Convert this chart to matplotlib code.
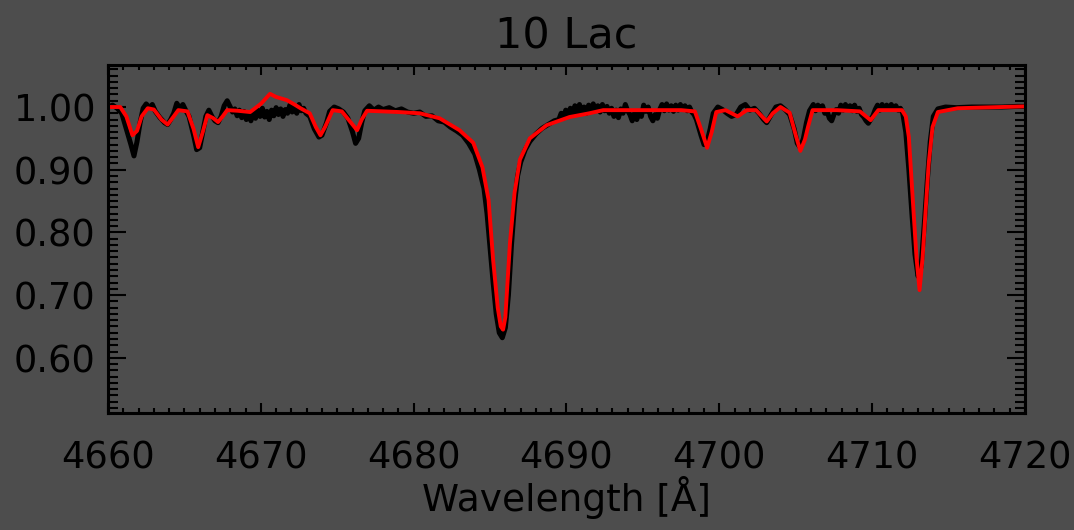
import matplotlib
matplotlib.use("Agg")
import matplotlib.pyplot as plt
from matplotlib.ticker import MultipleLocator, FormatStrFormatter

# ---- data ----
# observed spectrum (black), in wavelength segments
obs_wl_a = [4660.0, 4660.3, 4660.6, 4660.9, 4661.2, 4661.5, 4661.7, 4661.9, 4662.1, 4662.3,
            4662.5, 4662.7, 4662.9, 4663.1, 4663.4, 4663.7, 4663.9, 4664.1, 4664.3, 4664.5,
            4664.7, 4664.9, 4665.1, 4665.3, 4665.6, 4665.8, 4666.0, 4666.2, 4666.4, 4666.6,
            4666.8, 4667.0, 4667.2, 4667.4, 4667.6, 4667.8]
obs_fx_a = [1.000, 1.003, 0.998, 0.990, 0.965, 0.940, 0.922, 0.945, 0.975, 0.998,
            1.005, 0.999, 1.004, 0.993, 0.983, 0.975, 0.972, 0.980, 0.990, 1.006,
            0.998, 1.004, 0.994, 0.985, 0.955, 0.932, 0.935, 0.960, 0.985, 0.995,
            0.985, 0.978, 0.975, 0.985, 1.002, 1.010]

obs_wl_b = [4668.0, 4668.15, 4668.3, 4668.45, 4668.6, 4668.75, 4668.9, 4669.05, 4669.2, 4669.35,
            4669.5, 4669.65, 4669.8, 4669.95, 4670.1, 4670.25, 4670.4, 4670.55, 4670.7, 4670.85,
            4671.0, 4671.15, 4671.3, 4671.45, 4671.6, 4671.75, 4671.9, 4672.05, 4672.2, 4672.35,
            4672.5, 4672.65, 4672.8, 4672.95]
obs_fx_b = [1.000, 0.992, 0.997, 0.986, 0.995, 0.983, 0.993, 0.980, 0.990, 0.978,
            0.992, 0.982, 0.995, 0.985, 0.998, 0.984, 0.993, 0.980, 0.995, 0.986,
            0.999, 0.988, 0.997, 0.985, 0.996, 0.990, 1.003, 0.992, 1.000, 0.990,
            1.004, 0.994, 0.998, 0.990]

obs_wl_c = [4673.2, 4673.5, 4673.8, 4674.0, 4674.3, 4674.5, 4674.8, 4675.1, 4675.4, 4675.7,
            4676.0, 4676.2, 4676.4, 4676.6, 4676.8, 4677.1, 4677.4, 4677.7, 4678.0, 4678.4,
            4678.8, 4679.2, 4679.6, 4680.0, 4680.4, 4680.8, 4681.2, 4681.6, 4682.0, 4682.4,
            4682.8, 4683.2, 4683.6, 4684.0, 4684.3, 4684.6, 4684.8, 4685.0, 4685.2, 4685.4,
            4685.6, 4685.8, 4686.0, 4686.2, 4686.4, 4686.6, 4686.8, 4687.0, 4687.3, 4687.6,
            4688.0, 4688.4, 4688.8, 4689.2]
obs_fx_c = [0.985, 0.965, 0.952, 0.955, 0.975, 0.993, 1.000, 0.997, 0.992, 0.982,
            0.960, 0.942, 0.950, 0.975, 0.994, 1.002, 0.995, 1.000, 0.996, 0.999,
            0.994, 0.997, 0.992, 0.990, 0.992, 0.985, 0.986, 0.978, 0.976, 0.968,
            0.962, 0.955, 0.942, 0.925, 0.900, 0.870, 0.830, 0.775, 0.720, 0.670,
            0.640, 0.632, 0.648, 0.700, 0.780, 0.845, 0.890, 0.912, 0.932, 0.945,
            0.957, 0.966, 0.972, 0.978]

obs_wl_d = [4689.5, 4689.65, 4689.8, 4689.95, 4690.1, 4690.25, 4690.4, 4690.55, 4690.7, 4690.85,
            4691.0, 4691.15, 4691.3, 4691.45, 4691.6, 4691.75, 4691.9, 4692.05, 4692.2, 4692.35,
            4692.5, 4692.65, 4692.8, 4692.95, 4693.1, 4693.25, 4693.4, 4693.55, 4693.7, 4693.85,
            4694.0, 4694.15, 4694.3, 4694.45, 4694.6, 4694.75, 4694.9, 4695.05, 4695.2, 4695.35,
            4695.5, 4695.65, 4695.8, 4695.95, 4696.1, 4696.25, 4696.4, 4696.55, 4696.7, 4696.85,
            4697.0, 4697.15, 4697.3, 4697.45, 4697.6, 4697.75, 4697.9, 4698.05, 4698.2, 4698.35]
obs_fx_d = [0.980, 0.990, 0.982, 0.995, 0.985, 0.998, 0.988, 1.002, 0.990, 1.004,
            0.992, 1.000, 0.990, 1.003, 0.993, 1.005, 0.995, 1.002, 0.992, 1.004,
            0.994, 1.001, 0.990, 0.998, 0.985, 0.995, 0.983, 0.997, 0.990, 1.004,
            0.994, 0.988, 0.978, 0.990, 0.980, 0.993, 0.985, 1.003, 0.993, 1.000,
            0.985, 0.978, 0.988, 0.982, 0.996, 1.004, 0.994, 1.005, 0.995, 1.002,
            0.993, 1.003, 0.995, 1.004, 0.996, 1.002, 0.994, 1.000, 0.992, 0.988]

obs_wl_e = [4698.5, 4698.8, 4699.0, 4699.2, 4699.4, 4699.6, 4699.9, 4700.2, 4700.5, 4700.8,
            4701.1, 4701.4, 4701.7, 4702.0, 4702.3, 4702.6, 4702.9, 4703.1, 4703.4, 4703.7,
            4704.0, 4704.3, 4704.6, 4704.9, 4705.1, 4705.3, 4705.5, 4705.7, 4705.9]
obs_fx_e = [0.980, 0.955, 0.940, 0.945, 0.965, 0.990, 1.000, 0.996, 0.990, 0.985,
            0.988, 1.000, 1.004, 0.995, 0.998, 0.990, 0.980, 0.975, 0.988, 1.000,
            1.002, 0.996, 0.988, 0.965, 0.942, 0.935, 0.950, 0.975, 0.994]

obs_wl_f = [4706.0, 4706.15, 4706.3, 4706.45, 4706.6, 4706.75, 4706.9, 4707.05, 4707.2, 4707.35,
            4707.5, 4707.65, 4707.8, 4707.95, 4708.1, 4708.25, 4708.4, 4708.55, 4708.7, 4708.85,
            4709.0, 4709.15, 4709.3, 4709.45, 4709.6, 4709.75, 4709.9, 4710.05, 4710.2, 4710.35,
            4710.5, 4710.65, 4710.8, 4710.95, 4711.1, 4711.25, 4711.4, 4711.55, 4711.7, 4711.85]
obs_fx_f = [0.998, 1.004, 0.994, 1.003, 0.996, 1.002, 0.990, 0.993, 0.982, 0.978,
            0.988, 0.996, 0.990, 1.003, 0.995, 1.004, 0.996, 1.002, 0.994, 1.003,
            0.993, 0.998, 0.988, 0.984, 0.978, 0.974, 0.980, 0.986, 0.996, 1.003,
            0.995, 1.004, 0.997, 1.003, 0.996, 1.004, 0.997, 1.002, 0.995, 0.998]

obs_wl_g = [4712.0, 4712.2, 4712.4, 4712.6, 4712.8, 4713.0, 4713.2, 4713.4, 4713.6, 4713.8,
            4714.0, 4714.3, 4714.8, 4715.5, 4716.5, 4717.5, 4718.5, 4719.5, 4720.0]
obs_fx_g = [0.990, 0.960, 0.900, 0.830, 0.765, 0.730, 0.745, 0.810, 0.880, 0.945,
            0.985, 0.997, 1.000, 0.999, 1.000, 1.000, 1.000, 1.001, 1.001]

# model fit (red)
model_wl = [4660.0, 4660.8, 4661.2, 4661.6, 4661.9, 4662.2, 4662.6, 4663.0, 4663.5, 4663.9,
            4664.3, 4664.6, 4665.2, 4665.6, 4665.9, 4666.2, 4666.5, 4666.9, 4667.2, 4667.5,
            4667.8, 4668.5, 4669.3, 4670.0, 4670.6, 4671.0, 4671.7, 4672.2, 4672.6, 4673.2,
            4673.6, 4673.9, 4674.2, 4674.7, 4675.3, 4675.9, 4676.3, 4676.6, 4676.95, 4678.0,
            4679.0, 4680.4, 4681.7, 4683.0, 4683.9, 4684.5, 4684.9, 4685.2, 4685.5, 4685.7,
            4685.85, 4686.0, 4686.3, 4686.6, 4686.95, 4687.6, 4688.7, 4690.2, 4691.5, 4692.4,
            4694.0, 4696.1, 4697.5, 4698.4, 4698.8, 4699.2, 4699.5, 4699.8, 4700.4, 4701.2,
            4701.8, 4702.4, 4703.1, 4703.5, 4704.0, 4704.6, 4705.0, 4705.3, 4705.6, 4705.8,
            4706.1, 4707.7, 4709.2, 4709.9, 4710.4, 4711.0, 4711.95, 4712.2, 4712.4, 4712.7,
            4712.9, 4713.1, 4713.3, 4713.5, 4713.7, 4713.95, 4714.3, 4715.6, 4717.0, 4718.5,
            4720.0]
model_flux = [1.000, 1.000, 0.985, 0.955, 0.962, 0.985, 0.998, 0.996, 0.980, 0.972,
              0.985, 0.995, 0.993, 0.965, 0.936, 0.960, 0.987, 0.982, 0.976, 0.985,
              0.995, 0.994, 0.992, 1.005, 1.021, 1.016, 1.011, 1.004, 0.998, 0.990,
              0.968, 0.955, 0.968, 0.995, 0.993, 0.975, 0.963, 0.980, 0.994, 0.993,
              0.992, 0.990, 0.982, 0.963, 0.943, 0.904, 0.852, 0.756, 0.680, 0.650,
              0.645, 0.665, 0.783, 0.863, 0.916, 0.950, 0.971, 0.984, 0.990, 0.995,
              0.995, 0.995, 0.995, 0.993, 0.965, 0.935, 0.960, 0.992, 0.995, 0.985,
              0.995, 0.995, 0.977, 0.990, 1.000, 0.991, 0.955, 0.930, 0.948, 0.968,
              0.995, 0.995, 0.993, 0.979, 0.995, 0.995, 0.995, 0.985, 0.952, 0.836,
              0.760, 0.708, 0.760, 0.836, 0.910, 0.968, 0.992, 0.998, 0.999, 1.000,
              1.001]

title = "10 Lac"
xlabel = "Wavelength [Å]"
xlim = (4660, 4720)
ylim = (0.512, 1.067)

obs_wl = obs_wl_a + obs_wl_b + obs_wl_c + obs_wl_d + obs_wl_e + obs_wl_f + obs_wl_g
obs_flux = obs_fx_a + obs_fx_b + obs_fx_c + obs_fx_d + obs_fx_e + obs_fx_f + obs_fx_g

# ---- plot ----
bg = "#4d4d4d"
plt.rcParams["font.family"] = ["DejaVu Sans"]
fig = plt.figure(figsize=(10.74, 5.30), dpi=100, facecolor=bg)
ax = fig.add_axes([108/1074, 1-413/530, (1025-108)/1074, (413-65)/530], facecolor=bg)

ax.plot(obs_wl, obs_flux, color="black", lw=3.6, solid_joinstyle="round")
ax.plot(model_wl, model_flux, color="red", lw=2.8, solid_joinstyle="round")

ax.set_xlim(*xlim)
ax.set_ylim(*ylim)
ax.xaxis.set_major_locator(MultipleLocator(10))
ax.xaxis.set_minor_locator(MultipleLocator(1))
ax.yaxis.set_major_locator(MultipleLocator(0.1))
ax.yaxis.set_minor_locator(MultipleLocator(0.01))
ax.yaxis.set_major_formatter(FormatStrFormatter("%.2f"))

for s in ax.spines.values():
    s.set_color("black")
    s.set_linewidth(2.2)

ax.tick_params(axis="x", which="major", direction="in", length=7, width=1.5,
               top=True, bottom=True, labelsize=26.5, pad=19, colors="black")
ax.tick_params(axis="x", which="minor", direction="in", length=3.5, width=1.5,
               top=True, bottom=True)
ax.tick_params(axis="y", which="major", direction="in", length=13, width=1.5,
               left=True, right=True, labelsize=26.5, pad=9, colors="black")
ax.tick_params(axis="y", which="minor", direction="in", length=7, width=1.5,
               left=True, right=True)

ax.set_title(title, fontsize=31, color="black", pad=12)
ax.set_xlabel(xlabel, fontsize=27, color="black", labelpad=0)

fig.savefig("out.png", dpi=100, facecolor=bg)
